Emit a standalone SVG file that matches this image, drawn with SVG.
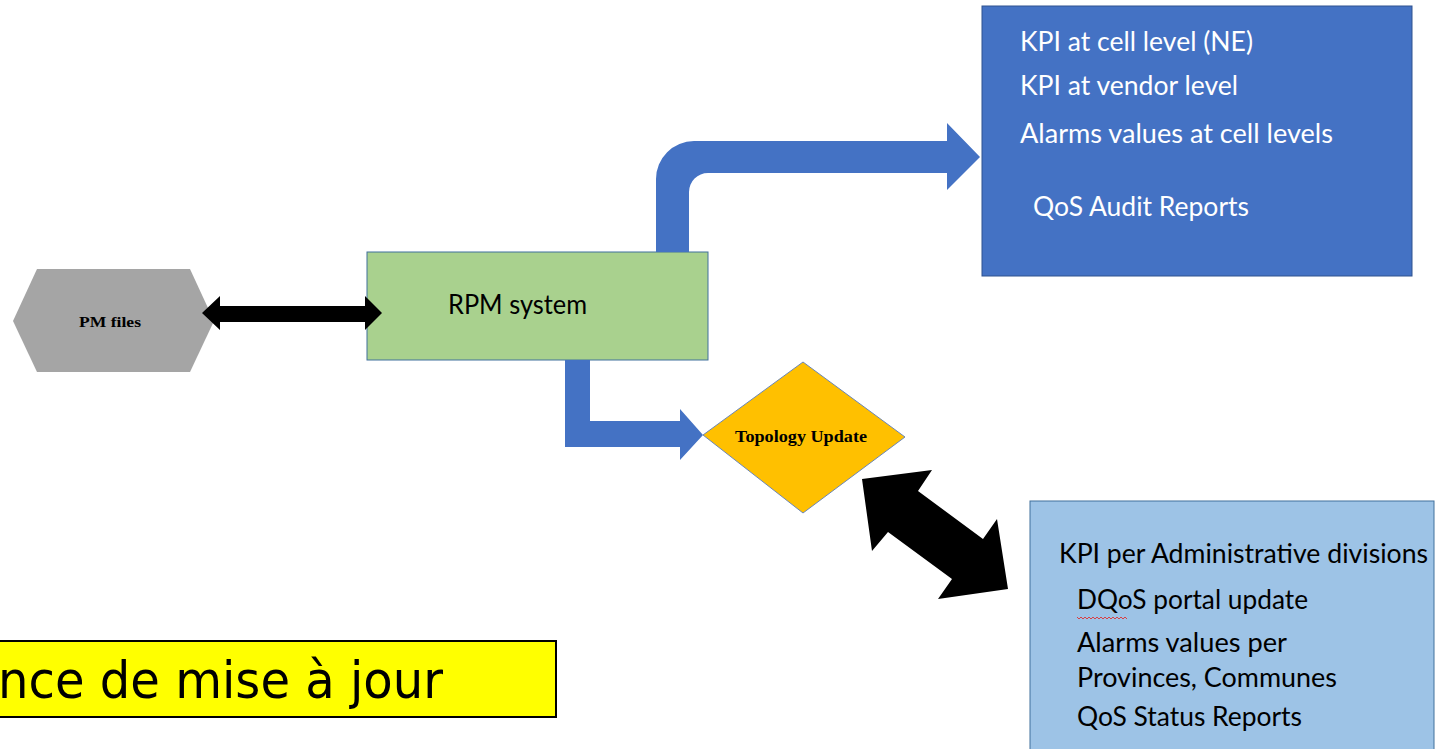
<svg xmlns="http://www.w3.org/2000/svg" width="1437" height="749" viewBox="0 0 1437 749">
  <style>
    .cal { font-family: Lato, "Open Sans", "Liberation Sans", sans-serif; font-size: 26px; }
    .wht { fill: #ffffff; }
    .blk { fill: #000000; }
    .ser { font-family: "Liberation Serif", "DejaVu Serif", serif; font-weight: bold; fill: #000000; }
    .flow { fill: #4472c4; }
  </style>
  <rect x="0" y="0" width="1437" height="749" fill="#ffffff"/>

  <!-- PM files -->
  <g id="pm-files">
    <polygon fill="#a5a5a5" points="13,321 37,269 190,269 214,321 190,372 37,372"/>
    <text class="ser" x="79" y="327" font-size="15" textLength="62" lengthAdjust="spacingAndGlyphs">PM files</text>
  </g>

  <!-- RPM system -->
  <g id="rpm-system">
    <rect x="367" y="252" width="341" height="108" fill="#a9d18e" stroke="#41719c" stroke-width="1"/>
    <text class="cal blk" x="448" y="314" textLength="139" lengthAdjust="spacingAndGlyphs">RPM system</text>
  </g>

  <!-- Cell / vendor level outputs -->
  <g id="kpi-outputs">
    <rect x="982" y="6" width="430" height="270" fill="#4472c4" stroke="#2f528f" stroke-width="1"/>
    <text class="cal wht" x="1020" y="51" textLength="233" lengthAdjust="spacingAndGlyphs">KPI at cell level (NE)</text>
    <text class="cal wht" x="1020" y="95" textLength="218" lengthAdjust="spacingAndGlyphs">KPI at vendor level</text>
    <text class="cal wht" x="1020" y="143" textLength="313" lengthAdjust="spacingAndGlyphs">Alarms values at cell levels</text>
    <text class="cal wht" x="1033" y="216" textLength="216" lengthAdjust="spacingAndGlyphs">QoS Audit Reports</text>
  </g>

  <!-- Topology Update -->
  <g id="topology-update">
    <polygon fill="#ffc000" stroke="#6a86b8" stroke-width="1" points="703,435 803,362 905,437 803,513"/>
    <text class="ser" x="735" y="442" font-size="16" textLength="132" lengthAdjust="spacingAndGlyphs">Topology Update</text>
  </g>

  <!-- Administrative division outputs -->
  <g id="admin-outputs">
    <rect x="1030" y="501" width="404" height="260" fill="#9dc3e6" stroke="#41719c" stroke-width="1"/>
    <text class="cal blk" x="1059" y="563" textLength="369" lengthAdjust="spacingAndGlyphs">KPI per Administrative divisions</text>
    <text class="cal blk" x="1077" y="609" textLength="231" lengthAdjust="spacingAndGlyphs">DQoS portal update</text>
    <path d="M1077,617 l2,2 l2,-2 l2,2 l2,-2 l2,2 l2,-2 l2,2 l2,-2 l2,2 l2,-2 l2,2 l2,-2 l2,2 l2,-2 l2,2 l2,-2 l2,2 l2,-2 l2,2 l2,-2 l2,2 l2,-2 l2,2 l2,-2 l2,2" fill="none" stroke="#e03030" stroke-width="0.9"/>
    <text class="cal blk" x="1077" y="652" textLength="210" lengthAdjust="spacingAndGlyphs">Alarms values per</text>
    <text class="cal blk" x="1077" y="687" textLength="260" lengthAdjust="spacingAndGlyphs">Provinces, Communes</text>
    <text class="cal blk" x="1077" y="726" textLength="225" lengthAdjust="spacingAndGlyphs">QoS Status Reports</text>
  </g>

  <!-- Update frequency banner -->
  <g id="update-banner">
    <rect x="-3" y="641" width="559" height="76" fill="#ffff00" stroke="#000000" stroke-width="2"/>
    <text x="-2" y="698" font-family="'DejaVu Sans', Verdana, sans-serif" font-size="52" fill="#000000" textLength="445" lengthAdjust="spacingAndGlyphs">nce de mise à jour</text>
  </g>

  <!-- connectors (drawn last so arrowheads sit over the boxes) -->
  <g id="connectors">
    <!-- PM files <-> RPM system -->
    <polygon fill="#000000" points="202,313 220,296 220,306 365,306 365,296 382,313 365,330 365,322 220,322 220,330"/>
    <!-- RPM system -> KPI outputs (bent arrow) -->
    <path class="flow" d="M656,252 L656,179 A38,38 0 0 1 694,141 L947,141 L947,123 L980,157 L947,190 L947,173 L708,173 A19,19 0 0 0 689,192 L689,252 Z"/>
    <!-- RPM system -> Topology Update (bent arrow) -->
    <path class="flow" d="M565,360 L565,447 L680,447 L680,460 L703,435 L680,409 L680,421 L590,421 L590,360 Z"/>
    <!-- Topology Update <-> administrative outputs -->
    <polygon fill="#000000" points="862,479 932,470 918,491 983,539 997,519 1008,589 938,599 952,579 888,532 872,551"/>
  </g>
</svg>
